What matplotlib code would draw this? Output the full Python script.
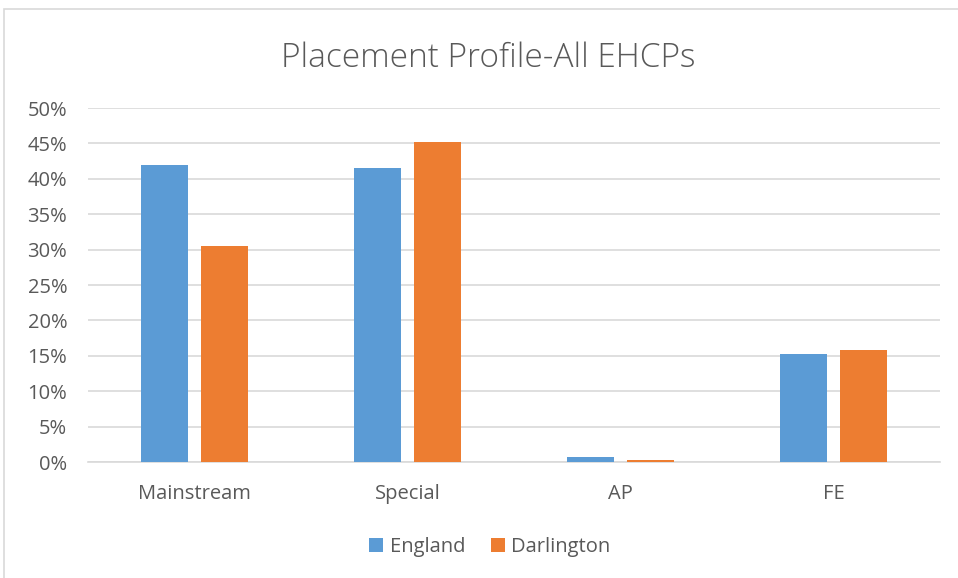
import numpy as np
import matplotlib
matplotlib.use("Agg")
import matplotlib.pyplot as plt
from matplotlib.patches import Rectangle
from matplotlib.ticker import PercentFormatter

# Data
categories = ["Mainstream", "Special", "AP", "FE"]
england = [0.419, 0.415, 0.0075, 0.152]
darlington = [0.305, 0.452, 0.003, 0.158]

blue = "#5B9BD5"
orange = "#ED7D31"
grid_col = "#D9D9D9"
text_col = "#595959"

plt.rcParams['font.family'] = ['Open Sans', 'DejaVu Sans']

fig = plt.figure(figsize=(9.58, 5.78), dpi=100)
ax = fig.add_axes([88/958, 1 - 462/578, (940 - 88)/958, (462 - 108)/578])

# outer chart border
fig.patches.append(Rectangle((4/958, -0.01), 1.1, 1 - 9/578 + 0.01, transform=fig.transFigure,
                             fill=False, edgecolor="#D9D9D9", linewidth=1.2))

x = np.arange(len(categories))
w = 0.22
ax.bar(x - 0.141, england, w, color=blue, label="England", zorder=3)
ax.bar(x + 0.141, darlington, w, color=orange, label="Darlington", zorder=3)

ax.set_xlim(-0.5, len(categories) - 0.5)
ax.set_ylim(0, 0.5)
ax.set_yticks(np.arange(0, 0.51, 0.05))
ax.yaxis.set_major_formatter(PercentFormatter(1.0, decimals=0))
ax.set_xticks(x)
ax.set_xticklabels(categories)

ax.grid(axis="y", color=grid_col, linewidth=1.2, zorder=0)
for s in ["top", "right", "left"]:
    ax.spines[s].set_visible(False)
ax.spines["bottom"].set_color(grid_col)
ax.spines["bottom"].set_linewidth(1.2)
ax.tick_params(length=0, colors=text_col, labelsize=14.5)
ax.tick_params(axis="x", pad=16)
ax.tick_params(axis="y", pad=15)

fig.text(488/958, 1 - 58/578, "Placement Profile-All EHCPs", ha="center", va="center",
         fontsize=24, color=text_col, fontweight="light")

fig.legend(loc="center", bbox_to_anchor=(490/958, 1 - 547/578), ncol=2, frameon=False,
           fontsize=14.5, labelcolor=text_col, handlelength=0.7, handleheight=0.7,
           handletextpad=0.3, columnspacing=1.3)

fig.savefig("out.png", dpi=100)
